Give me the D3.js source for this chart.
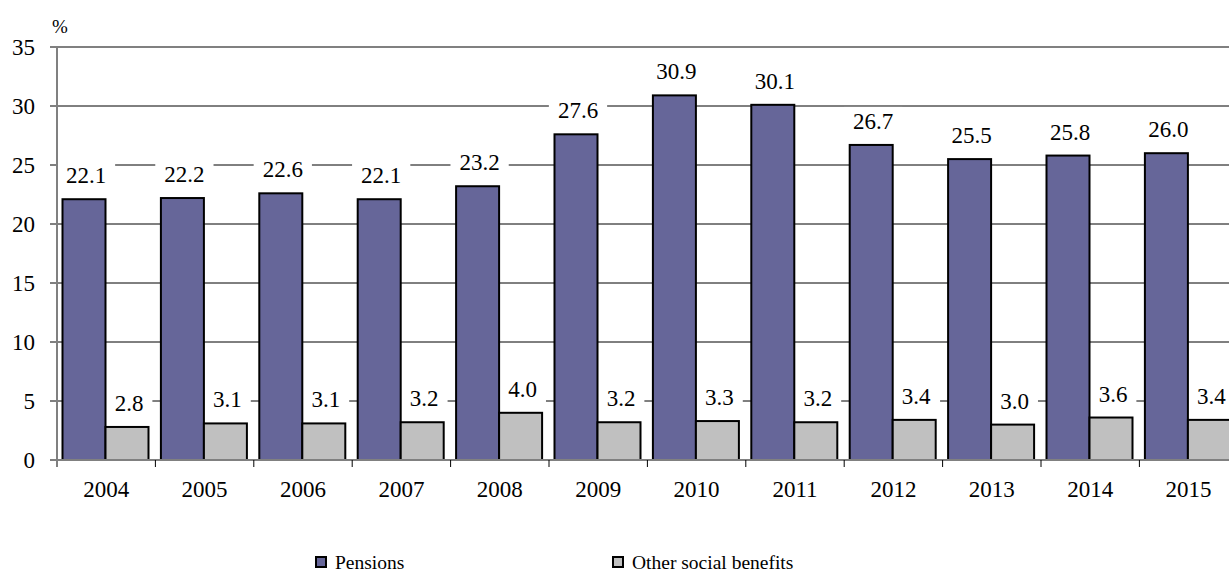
<html>
<head><meta charset="utf-8"></head>
<body style="margin:0">
<script src="https://d3js.org/d3.v7.min.js"></script>
<script>
  // data
  const years = ['2004','2005','2006','2007','2008','2009','2010','2011','2012','2013','2014','2015']
  const pensions = [22.1, 22.2, 22.6, 22.1, 23.2, 27.6, 30.9, 30.1, 26.7, 25.5, 25.8, 26.0]
  const otherBenefits = [2.8, 3.1, 3.1, 3.2, 4.0, 3.2, 3.3, 3.2, 3.4, 3.0, 3.6, 3.4]
  const seriesNames = ['Pensions', 'Other social benefits']
  const yTicks = [0, 5, 10, 15, 20, 25, 30, 35]

  const FONT = "'Liberation Serif'"
  const COLORS = ['#666699', '#c0c0c0']
  const W = 1229, H = 579
  const plotLeft = 57, plotTop = 47, plotBottom = 460
  const bandW = 98.4

  const svg = d3.select('body').append('svg')
    .attr('width', W).attr('height', H)
    .style('display', 'block')

  const x = d3.scaleBand()
    .domain(years)
    .range([plotLeft, plotLeft + bandW * years.length])
    .paddingInner(0).paddingOuter(0)
  const y = d3.scaleLinear().domain([0, 35]).range([plotBottom, plotTop])

  // gridlines
  svg.append('g')
    .selectAll('line')
    .data(yTicks.filter(d => d > 0))
    .join('line')
    .attr('x1', plotLeft).attr('x2', W)
    .attr('y1', d => y(d)).attr('y2', d => y(d))
    .attr('stroke', d => d === 35 ? '#808080' : '#000')
    .attr('stroke-width', d => d === 35 ? 2 : 1)

  // y axis
  svg.append('g')
    .selectAll('line')
    .data(yTicks)
    .join('line')
    .attr('x1', plotLeft - 7).attr('x2', plotLeft)
    .attr('y1', d => y(d)).attr('y2', d => y(d))
    .attr('stroke', '#000')
  svg.append('g')
    .selectAll('text')
    .data(yTicks)
    .join('text')
    .attr('x', 35).attr('y', d => y(d) + 8)
    .attr('text-anchor', 'end')
    .attr('font-size', 23)
    .style('font-family', FONT)
    .text(d => d)

  svg.append('text')
    .attr('x', 52).attr('y', 33)
    .attr('font-size', 19)
    .style('font-family', FONT)
    .text('%')

  // label boxes go under the bars so they only hide gridlines
  const gLabelBoxes = svg.append('g')

  // bars
  const barW = 43, barOff = 5.5
  const gBars = svg.append('g')
  gBars.selectAll('rect.p')
    .data(pensions)
    .join('rect')
    .attr('class', 'p')
    .attr('x', (d, i) => x(years[i]) + barOff)
    .attr('y', d => y(d))
    .attr('width', barW)
    .attr('height', d => y(0) - y(d))
    .attr('fill', COLORS[0])
    .attr('stroke', '#000').attr('stroke-width', 2)
  gBars.selectAll('rect.o')
    .data(otherBenefits)
    .join('rect')
    .attr('class', 'o')
    .attr('x', (d, i) => x(years[i]) + barOff + barW)
    .attr('y', d => y(d))
    .attr('width', barW)
    .attr('height', d => y(0) - y(d))
    .attr('fill', COLORS[1])
    .attr('stroke', '#000').attr('stroke-width', 2)

  // x axis
  svg.append('line')
    .attr('x1', plotLeft).attr('x2', W)
    .attr('y1', plotBottom).attr('y2', plotBottom)
    .attr('stroke', '#808080').attr('stroke-width', 2)
  svg.append('line')
    .attr('x1', plotLeft).attr('x2', plotLeft)
    .attr('y1', plotTop - 1).attr('y2', plotBottom + 7)
    .attr('stroke', '#808080').attr('stroke-width', 2)
  svg.append('g')
    .selectAll('line')
    .data(years.slice(1))
    .join('line')
    .attr('x1', d => x(d)).attr('x2', d => x(d))
    .attr('y1', plotBottom).attr('y2', plotBottom + 7)
    .attr('stroke', '#000')
  svg.append('g')
    .selectAll('text')
    .data(years)
    .join('text')
    .attr('x', d => x(d) + bandW / 2)
    .attr('y', 497)
    .attr('text-anchor', 'middle')
    .attr('font-size', 23)
    .style('font-family', FONT)
    .text(d => d)

  // data labels
  function addLabels(values, offX) {
    const g = svg.append('g')
    values.forEach((v, i) => {
      const cx = x(years[i]) + barOff + offX
      const by = y(v) - 16
      const t = g.append('text')
        .attr('x', cx).attr('y', by)
        .attr('text-anchor', 'middle')
        .attr('font-size', 23)
        .style('font-family', FONT)
        .text(v.toFixed(1))
      const bb = t.node().getBBox()
      gLabelBoxes.append('rect')
        .attr('x', bb.x - 9).attr('y', bb.y - 2)
        .attr('width', bb.width + 18).attr('height', bb.height + 4)
        .attr('fill', '#fff')
    })
  }
  addLabels(pensions, barW / 2 + 2)
  addLabels(otherBenefits, barW * 1.5 + 2)

  // legend
  const legend = svg.append('g')
  const legX = [316, 613]
  seriesNames.forEach((name, i) => {
    legend.append('rect')
      .attr('x', legX[i]).attr('y', 557)
      .attr('width', 10).attr('height', 10)
      .attr('fill', COLORS[i])
      .attr('stroke', '#000').attr('stroke-width', 2)
    legend.append('text')
      .attr('x', legX[i] + 19).attr('y', 569)
      .attr('font-size', 19.5)
      .style('font-family', FONT)
      .text(name)
  })
</script>
</body>
</html>
